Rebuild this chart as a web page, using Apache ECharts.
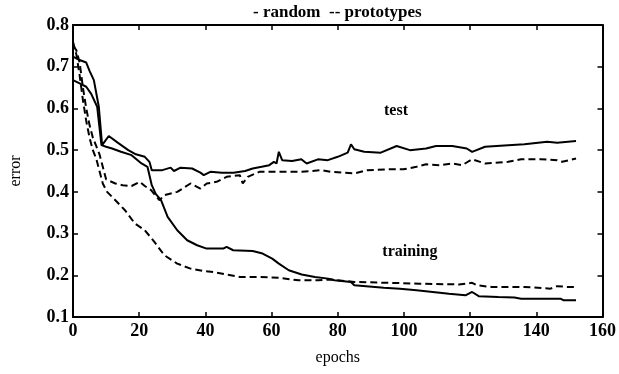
<!DOCTYPE html>
<html>
<head>
<meta charset="utf-8">
<script src="https://cdn.jsdelivr.net/npm/echarts@6/dist/echarts.min.js"></script>
<style>html,body{margin:0;padding:0;background:#fff}#c{width:619px;height:374px}</style>
</head>
<body>
<div id="c"></div>
<script>
// ---- data ----
const xTicks = [0, 20, 40, 60, 80, 100, 120, 140, 160];
const yTicks = [0.1, 0.2, 0.3, 0.4, 0.5, 0.6, 0.7, 0.8];

const testRandomX = [0, 2, 4, 5, 6.3, 7.8, 8.8, 10.8, 13.5, 16.7, 19, 21.7, 23.1, 23.8, 27, 29.5, 30.5, 32.5, 36, 38.5, 39.5, 41.5, 45, 48.5, 52, 54.3, 57, 59.3, 60.7, 61.5, 62.2, 63.2, 66.2, 69, 70.6, 74, 77, 80, 83, 84, 85, 88, 93, 97.8, 101.8, 106.7, 109.7, 114.6, 119, 120.6, 124.5, 131.5, 136.4, 143.3, 146.3, 152];
const testRandomY = [0.724, 0.716, 0.71, 0.69, 0.668, 0.604, 0.512, 0.534, 0.518, 0.50, 0.49, 0.484, 0.472, 0.452, 0.452, 0.458, 0.45, 0.458, 0.456, 0.446, 0.44, 0.448, 0.446, 0.446, 0.45, 0.456, 0.46, 0.464, 0.472, 0.468, 0.496, 0.476, 0.474, 0.478, 0.468, 0.478, 0.476, 0.484, 0.494, 0.514, 0.502, 0.496, 0.494, 0.51, 0.50, 0.504, 0.51, 0.51, 0.504, 0.496, 0.508, 0.512, 0.514, 0.52, 0.518, 0.522];

const trainRandomX = [0, 2, 4, 5.5, 7.3, 8.6, 10, 11.8, 14.5, 17.7, 20.7, 22.5, 23.1, 23.8, 25, 26.6, 28.6, 31.5, 34.5, 37.5, 40.4, 45.4, 46.4, 48.4, 54.3, 57.3, 60.2, 62.2, 65.2, 69.1, 73.1, 77.1, 79, 84, 85, 93.9, 98.8, 103.8, 108.7, 113.6, 118.6, 120.6, 122.6, 128.5, 133.4, 135.4, 147.3, 148.3, 152];
const trainRandomY = [0.668, 0.66, 0.652, 0.635, 0.604, 0.512, 0.508, 0.504, 0.496, 0.488, 0.468, 0.46, 0.44, 0.416, 0.395, 0.38, 0.34, 0.308, 0.284, 0.272, 0.264, 0.264, 0.268, 0.26, 0.258, 0.252, 0.24, 0.228, 0.212, 0.202, 0.196, 0.192, 0.188, 0.184, 0.176, 0.17, 0.168, 0.164, 0.16, 0.156, 0.152, 0.16, 0.15, 0.148, 0.147, 0.144, 0.144, 0.14, 0.14];

const testProtoX = [0, 1, 2, 3, 4, 5, 6, 7, 8, 9, 10, 12.8, 15, 17.7, 20.2, 21.7, 23.6, 26.1, 27.6, 31.5, 35.5, 38.5, 40.4, 43.4, 46.4, 50.4, 51.3, 52.8, 56.3, 61.2, 69.1, 75, 78, 85, 88.9, 94.9, 99.8, 103.8, 106.7, 110.7, 114.6, 117.6, 120.6, 124.5, 131.5, 135.4, 141.4, 146.3, 147.8, 152];
const testProtoY = [0.75, 0.74, 0.71, 0.65, 0.60, 0.56, 0.53, 0.51, 0.49, 0.46, 0.43, 0.42, 0.416, 0.414, 0.424, 0.414, 0.404, 0.38, 0.392, 0.40, 0.42, 0.408, 0.42, 0.424, 0.436, 0.44, 0.42, 0.436, 0.448, 0.448, 0.448, 0.452, 0.448, 0.444, 0.452, 0.454, 0.454, 0.46, 0.466, 0.464, 0.468, 0.464, 0.478, 0.468, 0.472, 0.478, 0.478, 0.476, 0.472, 0.48];

const trainProtoX = [0, 1, 2, 3, 4, 5, 6, 7, 8, 9, 10.3, 12.8, 15.7, 18.7, 21.7, 24.6, 27.6, 31.5, 35.5, 39.5, 42.4, 46.4, 50.4, 56.3, 62.2, 68.2, 74.1, 78, 85, 94.9, 104.7, 116.6, 118.6, 120.6, 122, 126.5, 136.4, 144.3, 146.3, 149.3, 152];
const trainProtoY = [0.76, 0.73, 0.68, 0.62, 0.57, 0.53, 0.50, 0.48, 0.45, 0.42, 0.40, 0.38, 0.356, 0.324, 0.308, 0.28, 0.248, 0.228, 0.216, 0.21, 0.208, 0.202, 0.196, 0.196, 0.194, 0.188, 0.188, 0.19, 0.184, 0.182, 0.18, 0.178, 0.18, 0.182, 0.176, 0.172, 0.172, 0.168, 0.174, 0.172, 0.172];

const legendText = '- random  -- prototypes';
const annotTest = {text: 'test', x: 97.6, y: 0.594};
const annotTrain = {text: 'training', x: 101.8, y: 0.255};

// ---- chart ----
const zip = (xs, ys) => xs.map((x, i) => [x, ys[i]]);
const FONT = '"Liberation Serif", "DejaVu Serif", serif';
const chart = echarts.init(document.getElementById('c'), null, {renderer: 'canvas'});

const axisCommon = {
  axisLine: {show: true, onZero: false, lineStyle: {color: '#000', width: 2}},
  axisTick: {show: true, inside: true, length: 5, lineStyle: {color: '#000', width: 1.5}},
  splitLine: {show: false}
};

function lineSeries(name, xs, ys, dashed, mp) {
  const s = {
    name, type: 'line', data: zip(xs, ys), showSymbol: false, symbol: 'none',
    xAxisIndex: 0, yAxisIndex: 0, animation: false, smooth: false,
    lineStyle: {color: '#000', width: 2, type: dashed ? [7, 4] : 'solid'}
  };
  if (mp) {
    s.markPoint = {
      symbol: 'circle', symbolSize: 0, animation: false,
      label: {show: true, color: '#000', fontFamily: FONT, fontWeight: 'bold', fontSize: 16, formatter: p => p.name, position: 'inside'},
      data: [{name: mp.text, coord: [mp.x, mp.y]}]
    };
  }
  return s;
}

chart.setOption({
  backgroundColor: '#fff',
  animation: false,
  grid: {left: 67, right: 13, top: 25, bottom: 57, containLabel: false},
  graphic: [{
    type: 'text', left: 253, top: 4,
    style: {text: legendText, fill: '#000', font: 'bold 17px ' + FONT}
  }],
  xAxis: [
    Object.assign({}, axisCommon, {
      type: 'value', position: 'bottom', min: 0, max: 160, interval: 20,
      name: 'epochs', nameLocation: 'middle', nameGap: 33,
      nameTextStyle: {color: '#000', fontFamily: FONT, fontSize: 16},
      axisLabel: {color: '#000', fontFamily: FONT, fontWeight: 'bold', fontSize: 18, margin: 5}
    }),
    Object.assign({}, axisCommon, {
      type: 'value', position: 'top', min: 0, max: 160, interval: 20,
      axisLabel: {show: false}
    })
  ],
  yAxis: [
    Object.assign({}, axisCommon, {
      type: 'value', position: 'left', min: 0.1, max: 0.8, interval: 0.1,
      name: 'error', nameLocation: 'middle', nameGap: 49, nameRotate: 90,
      nameTextStyle: {color: '#000', fontFamily: FONT, fontSize: 16},
      axisLabel: {color: '#000', fontFamily: FONT, fontWeight: 'bold', fontSize: 18, margin: 4,
        formatter: v => v.toFixed(1)}
    }),
    Object.assign({}, axisCommon, {
      type: 'value', position: 'right', min: 0.1, max: 0.8, interval: 0.1,
      axisLabel: {show: false}
    })
  ],
  series: [
    lineSeries('test random', testRandomX, testRandomY, false, annotTest),
    lineSeries('training random', trainRandomX, trainRandomY, false, annotTrain),
    lineSeries('test prototypes', testProtoX, testProtoY, true),
    lineSeries('training prototypes', trainProtoX, trainProtoY, true)
  ]
});
</script>
</body>
</html>
